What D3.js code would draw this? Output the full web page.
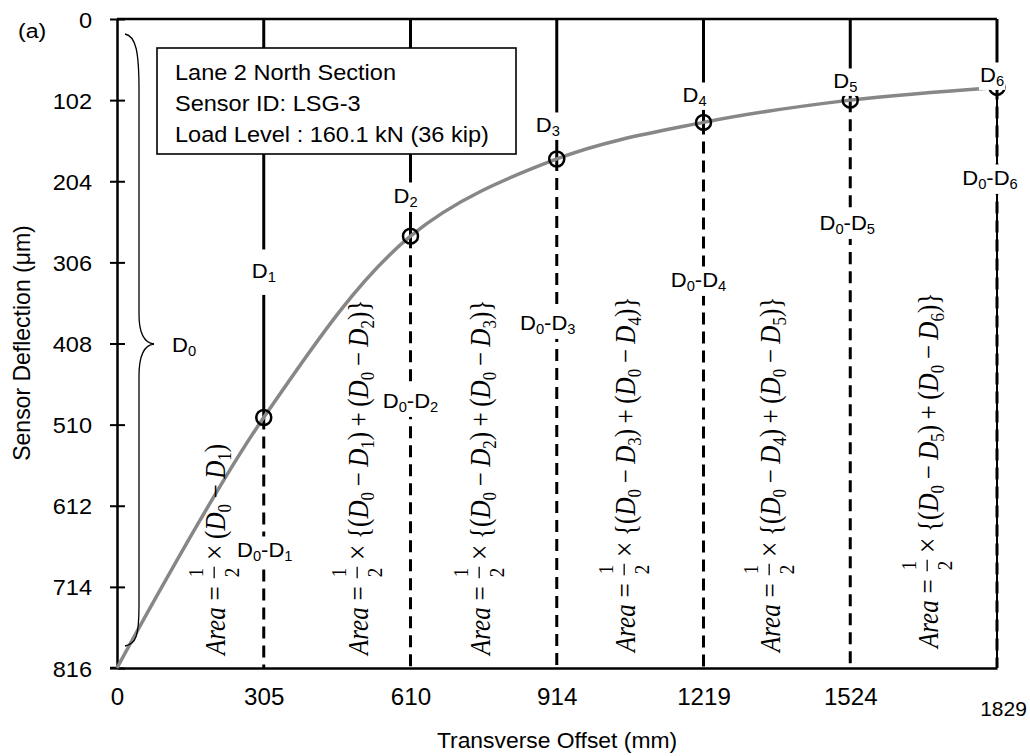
<!DOCTYPE html>
<html>
<head>
<meta charset="utf-8">
<script src="https://cdn.jsdelivr.net/npm/d3@7"></script>
<style>
  html, body { margin: 0; padding: 0; background: #fff; }
  svg { display: block; }
</style>
</head>
<body>
<svg id="chart" width="1030" height="756"></svg>
<script>
// ---- data ----
const offsetsMm = [0, 305, 610, 914, 1219, 1524, 1829];      // sensor transverse offsets
const deflectionsUm = [816, 501, 273, 176, 130, 102, 86];    // D0 .. D6
const xTickValues = [0, 305, 610, 914, 1219, 1524, 1829];
const yTickValues = [0, 102, 204, 306, 408, 510, 612, 714, 816];
const infoLines = ["Lane 2 North Section", "Sensor ID: LSG-3", "Load Level : 160.1 kN (36 kip)"];
const xTitle = "Transverse Offset (mm)";
const yTitle = "Sensor Deflection (μm)";
const panelTag = "(a)";

// ---- styling / layout ----
const SANS = "'Liberation Sans', Arial, sans-serif";
const SERIF = "'Liberation Serif', 'Times New Roman', serif";
const SX = 1.14;            // horizontal widening of the formula lettering
const TAG_SX = 1.05;        // widening of the sensor tags
const LABEL_FS = 21;

// sensor tags D1..D6: start offset from the sensor line, baseline, gap padding
const sensorTagLayout = [
  { dx: -12, base: 278, pad: 10 },
  { dx: -17, base: 203, pad: 2 },
  { dx: -21, base: 132, pad: 1 },
  { dx: -21, base: 102, pad: 1 },
  { dx: -17, base: 88,  pad: 1 },
  { dx: -17, base: 82,  pad: 1 }
];
// difference tags D0-D1 .. D0-D6: centre offset from the line, baseline
const diffTagLayout = [
  { dx: 1,  base: 557 },
  { dx: 0,  base: 408 },
  { dx: -9, base: 330 },
  { dx: -5, base: 287 },
  { dx: -3, base: 230 },
  { dx: -7, base: 185 }
];
// area formulas: baseline x on screen, starting y
const formulaLayout = [
  { bx: 225, by: 655 }, { bx: 368, by: 655 }, { bx: 490, by: 655 },
  { bx: 635, by: 652 }, { bx: 780, by: 652 }, { bx: 938, by: 648 }
];

const svg = d3.select("#chart");

const x = d3.scaleLinear().domain(d3.extent(offsetsMm)).range([117, 997]);
const y = d3.scaleLinear().domain([0, d3.max(yTickValues)]).range([19, 668]);

const X0 = x.range()[0], X1 = x.range()[1];
const YTOP = y(0), YBOT = y(d3.max(yTickValues));

// ---- frame (top and right edges) ----
svg.append("line").attr("x1", X0).attr("x2", X1).attr("y1", YTOP).attr("y2", YTOP)
  .attr("stroke", "#000").attr("stroke-width", 2.5);
svg.append("line").attr("x1", X1).attr("x2", X1).attr("y1", YTOP).attr("y2", YBOT)
  .attr("stroke", "#000").attr("stroke-width", 2);

// ---- y axis (reversed: 0 at top) ----
const yAxis = svg.append("g").attr("transform", `translate(${X0},0)`)
  .call(d3.axisLeft(y).tickValues(yTickValues).tickSizeOuter(0).tickSizeInner(7).tickFormat(d3.format("d")));
yAxis.select(".domain").attr("stroke", "#000").attr("stroke-width", 2.5);
yAxis.selectAll(".tick line").attr("x1", -7).attr("x2", 8).attr("stroke", "#000").attr("stroke-width", 2);
yAxis.selectAll(".tick text")
  .attr("x", null).attr("dy", null)
  .attr("transform", "translate(-25,8) scale(1.07,1)")
  .attr("font-family", SANS).attr("font-size", 22).attr("fill", "#000")
  .attr("text-anchor", "end");

// ---- x axis ----
const xAxis = svg.append("g").attr("transform", `translate(0,${YBOT})`)
  .call(d3.axisBottom(x).tickValues(xTickValues).tickSize(0).tickFormat(d3.format("d")));
xAxis.select(".domain").attr("stroke", "#000").attr("stroke-width", 2.5);
xAxis.selectAll(".tick text")
  .attr("y", null).attr("dy", null)
  .attr("font-family", SANS).attr("fill", "#000")
  .attr("font-size", (d, i, n) => i === n.length - 1 ? 21 : 23)
  .attr("transform", (d, i, n) => i === n.length - 1 ? "translate(6,48)" : "translate(0,37) scale(1.05,1)");
// left stub of the bottom edge
svg.append("line").attr("x1", X0 - 7).attr("x2", X0).attr("y1", YBOT).attr("y2", YBOT)
  .attr("stroke", "#000").attr("stroke-width", 2.5);

// ---- axis titles and panel tag ----
svg.append("text").attr("transform", "translate(557,748) scale(1.04,1)")
  .attr("text-anchor", "middle").attr("font-family", SANS).attr("font-size", 22).attr("fill", "#000")
  .text(xTitle);
svg.append("text").attr("transform", "translate(30,343) scale(1.06,1) rotate(-90)")
  .attr("text-anchor", "middle").attr("font-family", SANS).attr("font-size", 23).attr("fill", "#000")
  .text(yTitle);
svg.append("text").attr("transform", "translate(18,38) scale(1.1,1)")
  .attr("font-family", SANS).attr("font-size", LABEL_FS).attr("fill", "#000")
  .text(panelTag);

// ---- sensor lines: solid above each reading, dashed below ----
const sensors = offsetsMm.map((o, i) => ({ o, d: deflectionsUm[i], i })).slice(1);
const lines = svg.append("g");
lines.selectAll("line.solid").data(sensors).join("line")
  .attr("class", "solid")
  .attr("x1", s => x(s.o)).attr("x2", s => x(s.o))
  .attr("y1", YTOP).attr("y2", s => y(s.d))
  .attr("stroke", "#000").attr("stroke-width", 3);
lines.selectAll("line.dash").data(sensors).join("line")
  .attr("class", "dash")
  .attr("x1", s => x(s.o)).attr("x2", s => x(s.o))
  .attr("y1", s => y(s.d)).attr("y2", YBOT)
  .attr("stroke", "#000").attr("stroke-width", 3).attr("stroke-dasharray", "12,7");

// ---- deflection basin ----
const basin = d3.line()
  .x((d, i) => x(offsetsMm[i]))
  .y(d => y(d))
  .curve(d3.curveCatmullRom.alpha(0.5));
svg.append("path").attr("d", basin(deflectionsUm))
  .attr("fill", "none").attr("stroke", "#878787").attr("stroke-width", 3.5);

svg.append("g").selectAll("circle").data(sensors).join("circle")
  .attr("cx", s => x(s.o)).attr("cy", s => y(s.d)).attr("r", 7.5)
  .attr("fill", "none").attr("stroke", "#000").attr("stroke-width", 2.5);

// ---- info box ----
const box = svg.append("g");
box.append("rect").attr("x", 157).attr("y", 48).attr("width", 359).attr("height", 106)
  .attr("fill", "#fff").attr("stroke", "#000").attr("stroke-width", 1.6);
box.selectAll("text").data(infoLines).join("text")
  .attr("transform", (d, i) => `translate(175,${80 + i * 31}) scale(1.07,1)`)
  .attr("font-family", SANS).attr("font-size", 22).attr("fill", "#000")
  .text(d => d);

// ---- brace spanning D0 ----
svg.append("path")
  .attr("d", "M125,34 C136,36 139,52 139,90 L139,314 C139,334 145,343 154,344 C145,345 139,354 139,376 L139,606 C139,636 136,644 125,646")
  .attr("fill", "none").attr("stroke", "#000").attr("stroke-width", 1.3);

// ---- text with subscripts ----
function subscriptTag(parent, parts, px, base, anchor, pad) {
  const g = parent.append("g").attr("transform", `translate(${px},${base}) scale(${TAG_SX},1)`);
  const bg = g.append("rect").attr("fill", "#fff");
  const t = g.append("text").attr("font-family", SANS).attr("font-size", LABEL_FS)
    .attr("fill", "#000").attr("text-anchor", anchor);
  let shift = 0;
  parts.forEach(p => {
    const isSub = p.sub !== undefined;
    const target = isSub ? 4 : 0;
    t.append("tspan").attr("dy", target - shift)
      .attr("font-size", isSub ? 14 : LABEL_FS)
      .text(isSub ? p.sub : p.t);
    shift = target;
  });
  if (pad !== null) {
    const b = t.node().getBBox();
    bg.attr("x", b.x - 1).attr("width", b.width + 2)
      .attr("y", b.y - pad).attr("height", b.height + 2 * pad);
  }
  return g;
}

// D0 beside the brace
subscriptTag(svg, [{ t: "D" }, { sub: "0" }], 172, 352, "start", null);

// ---- area formulas (rotated) ----
function formulaTokens(k) {
  const med = 4 / 18, thick = 5 / 18;
  const diff = j => [
    { text: "(" }, { text: "D", italic: true }, { text: "0", sub: true },
    { space: med }, { text: "−" }, { space: med },
    { text: "D", italic: true }, { text: String(j), sub: true }, { text: ")" }
  ];
  const toks = [
    { text: "Area", italic: true }, { space: thick }, { text: "=" }, { space: thick },
    { frac: ["1", "2"] }, { space: med }, { text: "×", big: true }, { space: med }
  ];
  if (k === 1) toks.push(...diff(1));
  else toks.push({ text: "{" }, ...diff(k - 1), { space: med }, { text: "+" }, { space: med }, ...diff(k), { text: "}" });
  return toks;
}

function drawFormula(tokens, bx, by) {
  const FS = 25;
  const g = svg.append("g").attr("transform", `translate(${bx},${by}) scale(${SX},1) rotate(-90)`);
  let u = 0;
  tokens.forEach(tok => {
    if (tok.space) { u += tok.space * FS; return; }
    if (tok.frac) {
      const fs = 19;
      const num = g.append("text").attr("font-family", SERIF).attr("font-size", fs)
        .attr("text-anchor", "middle").attr("fill", "#000").text(tok.frac[0]);
      const den = g.append("text").attr("font-family", SERIF).attr("font-size", fs)
        .attr("text-anchor", "middle").attr("fill", "#000").text(tok.frac[1]);
      const w = Math.max(num.node().getComputedTextLength(), den.node().getComputedTextLength()) + 4;
      num.attr("x", u + w / 2).attr("y", -19);
      den.attr("x", u + w / 2).attr("y", 12);
      g.append("line").attr("x1", u + 1).attr("x2", u + w - 1).attr("y1", -9.5).attr("y2", -9.5)
        .attr("stroke", "#000").attr("stroke-width", 1.1);
      u += w;
      return;
    }
    const t = g.append("text").attr("x", u).attr("y", tok.sub ? 5 : 0)
      .attr("font-family", SERIF).attr("font-size", tok.sub ? 17 : (tok.big ? 28 : FS))
      .attr("font-style", tok.italic ? "italic" : "normal").attr("fill", "#000")
      .text(tok.text);
    u += t.node().getComputedTextLength();
  });
}

formulaLayout.forEach((f, i) => drawFormula(formulaTokens(i + 1), f.bx, f.by));

// ---- sensor and difference tags (white backing hides the lines underneath) ----
sensors.forEach((s, i) => {
  const L = sensorTagLayout[i];
  subscriptTag(svg, [{ t: "D" }, { sub: String(s.i) }], x(s.o) + L.dx, L.base, "start", L.pad);
  const M = diffTagLayout[i];
  subscriptTag(svg, [{ t: "D" }, { sub: "0" }, { t: "-" }, { t: "D" }, { sub: String(s.i) }],
    x(s.o) + M.dx, M.base, "middle", 2);
});
</script>
</body>
</html>
